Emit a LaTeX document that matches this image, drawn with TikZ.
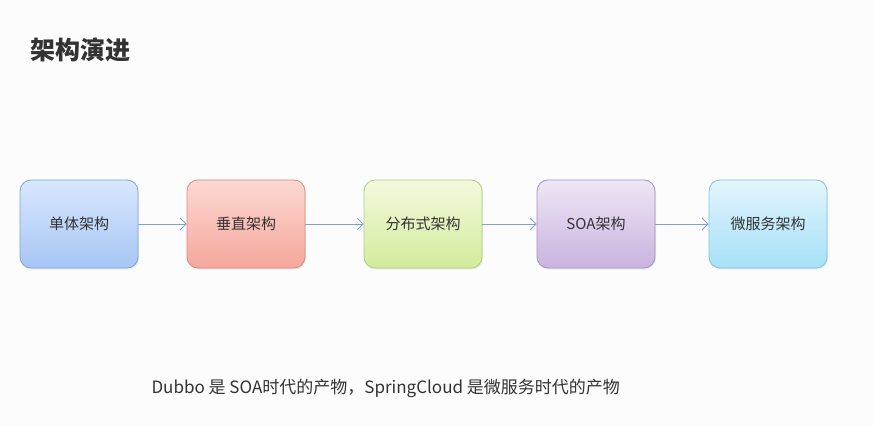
\documentclass[tikz,border=0pt]{standalone}
\usepackage{fontspec}
\setmainfont{Noto Sans CJK SC}
\usetikzlibrary{arrows.meta,shadows}
\definecolor{bgc}{HTML}{FCFCFC}
\definecolor{txt}{HTML}{333333}
\definecolor{arr}{HTML}{7FA2CC}
\definecolor{aT}{HTML}{D8E7FC}\definecolor{aB}{HTML}{A6C6F4}\definecolor{aD}{HTML}{7EA4D6}
\definecolor{bT}{HTML}{FCD8D2}\definecolor{bB}{HTML}{F6A79C}\definecolor{bD}{HTML}{D68A80}
\definecolor{cT}{HTML}{F2F9DE}\definecolor{cB}{HTML}{D3EB9C}\definecolor{cD}{HTML}{B2CE7C}
\definecolor{dT}{HTML}{EEE6F5}\definecolor{dB}{HTML}{C9B3DF}\definecolor{dD}{HTML}{A790C0}
\definecolor{eT}{HTML}{E2F5FD}\definecolor{eB}{HTML}{A6E0F7}\definecolor{eD}{HTML}{80C4DE}
\tikzset{
  stage/.style={rounded corners=11pt, minimum width=118pt, minimum height=88pt,
    font=\fontsize{15}{18}\selectfont, text=txt, line width=0.8pt,
    drop shadow={shadow xshift=1pt, shadow yshift=-1.5pt, opacity=0.15}},
  flow/.style={draw=arr, line width=0.8pt, -{Straight Barb[length=6pt,width=12pt,line width=0.8pt]}}
}
\begin{document}
\begin{tikzpicture}[x=1pt,y=1pt]
\fill[bgc] (0,0) rectangle (874,426);
\useasboundingbox (0,0) rectangle (874,426);
\node[anchor=west, font=\fontsize{25}{28}\selectfont\bfseries, text=txt] (title) at (27,376) {架构演进};
\node[stage, draw=aD, top color=aT, bottom color=aB] (s1) at (79,202) {单体架构};
\node[stage, draw=bD, top color=bT, bottom color=bB] (s2) at (246,202) {垂直架构};
\node[stage, draw=cD, top color=cT, bottom color=cB] (s3) at (423,202) {分布式架构};
\node[stage, draw=dD, top color=dT, bottom color=dB] (s4) at (596,202) {SOA架构};
\node[stage, draw=eD, top color=eT, bottom color=eB] (s5) at (768,202) {微服务架构};
\draw[flow] (s1) -- (s2);
\draw[flow] (s2) -- (s3);
\draw[flow] (s3) -- (s4);
\draw[flow] (s4) -- (s5);
\node[anchor=west, font=\fontsize{17}{20}\selectfont, text=txt] (note) at (148,38) {Dubbo 是 SOA时代的产物，SpringCloud 是微服务时代的产物};
\end{tikzpicture}
\end{document}
